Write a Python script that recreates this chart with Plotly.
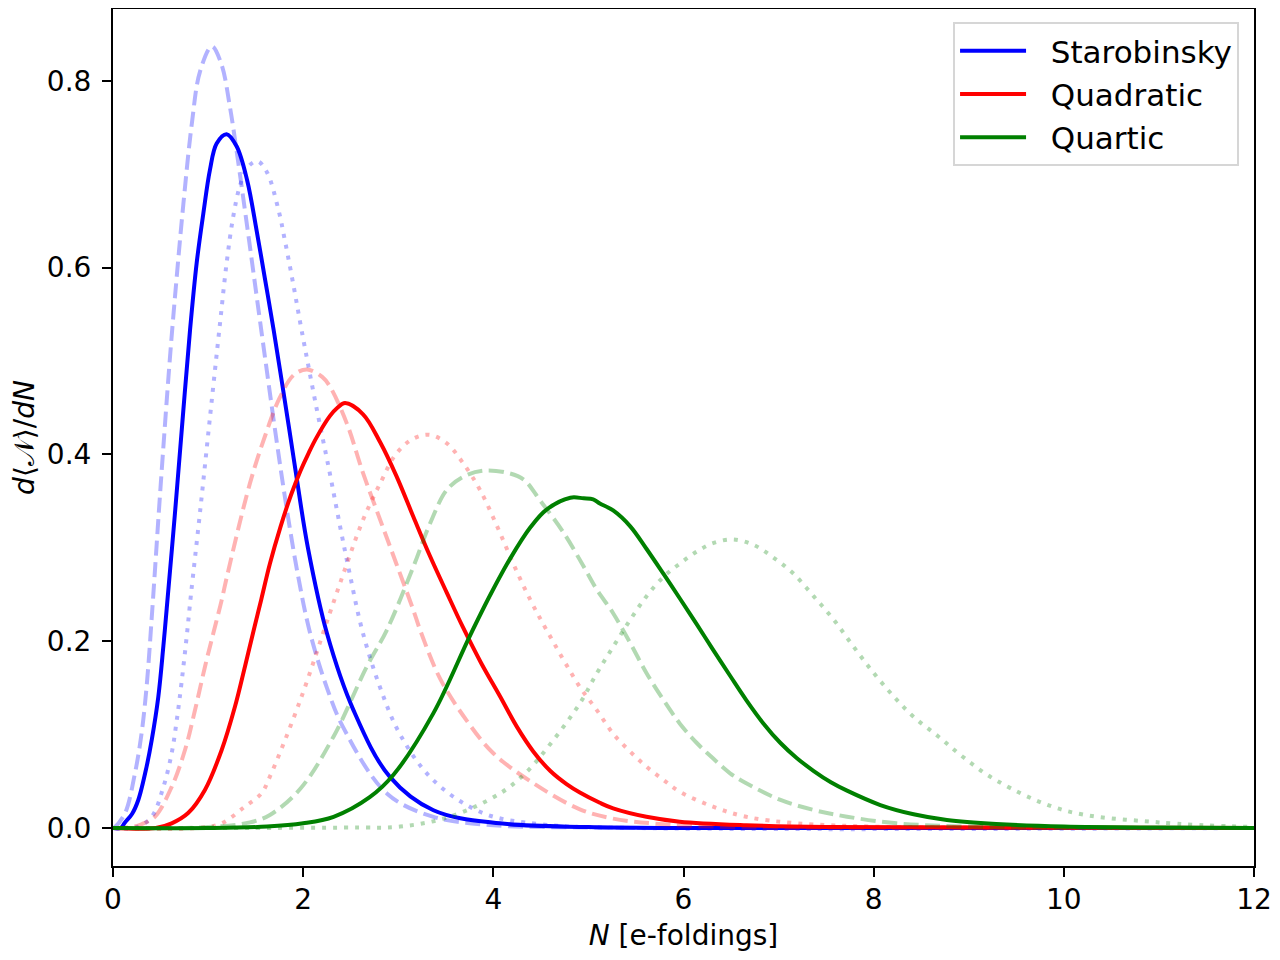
import plotly.graph_objects as go

# ---- data (N in e-foldings, value of d<N>/dN) ----
star_solid_N = [0, 0.08, 0.126, 0.2, 0.266, 0.354, 0.407, 0.476, 0.53, 0.565, 0.65, 0.73, 0.81, 0.88, 0.95, 1.02, 1.09, 1.195, 1.30, 1.41, 1.51, 1.60, 1.69, 1.855, 1.93, 2.05, 2.25, 2.53, 2.91, 3.37, 4.07, 5, 6, 12]
star_solid_V = [0, 0, 0.006, 0.015, 0.03, 0.066, 0.094, 0.14, 0.195, 0.235, 0.335, 0.435, 0.533, 0.605, 0.658, 0.705, 0.733, 0.743, 0.73, 0.694, 0.64, 0.587, 0.533, 0.426, 0.376, 0.30, 0.2085, 0.126, 0.055, 0.019, 0.005, 0.001, 0, 0]

star_dash_N = [0, 0.02, 0.126, 0.231, 0.30, 0.354, 0.414, 0.5, 0.60, 0.67, 0.74, 0.83, 0.915, 1.04, 1.14, 1.23, 1.30, 1.41, 1.51, 1.60, 1.72, 1.83, 1.95, 2.07, 2.25, 2.42, 2.88, 3.37, 4, 5, 6, 12]
star_dash_V = [0, 0.001, 0.0157, 0.0586, 0.101, 0.152, 0.235, 0.365, 0.505, 0.59, 0.668, 0.755, 0.81, 0.837, 0.818, 0.772, 0.725, 0.645, 0.57, 0.503, 0.415, 0.34, 0.268, 0.21, 0.15, 0.108, 0.037, 0.012, 0.003, 0.0005, 0, 0]

star_dot_N = [0, 0.25, 0.407, 0.53, 0.617, 0.67, 0.72, 0.775, 0.82, 0.915, 1.02, 1.125, 1.195, 1.265, 1.336, 1.42, 1.52, 1.62, 1.74, 1.81, 1.90, 1.98, 2.14, 2.28, 2.39, 2.49, 2.62, 2.8, 3.02, 3.37, 3.89, 4.5, 5.5, 12]
star_dot_V = [0, 0.001, 0.012, 0.044, 0.08, 0.115, 0.155, 0.205, 0.25, 0.338, 0.44, 0.54, 0.605, 0.655, 0.688, 0.708, 0.714, 0.702, 0.662, 0.628, 0.58, 0.535, 0.45, 0.38, 0.322, 0.272, 0.212, 0.153, 0.1, 0.051, 0.016, 0.004, 0, 0]

quad_solid_N = [0, 0.45, 0.617, 0.79, 0.968, 1.143, 1.283, 1.388, 1.49, 1.56, 1.65, 1.76, 1.87, 1.97, 2.06, 2.14, 2.28, 2.36, 2.44, 2.63, 2.81, 2.98, 3.16, 3.33, 3.51, 3.68, 3.87, 4.07, 4.25, 4.42, 4.6, 4.77, 4.91, 5.12, 5.26, 5.61, 5.96, 6.66, 7.5, 12]
quad_solid_V = [0, 0, 0.005, 0.016, 0.041, 0.0835, 0.13, 0.173, 0.216, 0.245, 0.283, 0.322, 0.356, 0.382, 0.402, 0.418, 0.441, 0.45, 0.455, 0.443, 0.413, 0.377, 0.333, 0.292, 0.252, 0.215, 0.177, 0.141, 0.108, 0.082, 0.061, 0.047, 0.038, 0.027, 0.021, 0.012, 0.0068, 0.003, 0.001, 0]

quad_dash_N = [0, 0.2, 0.3, 0.44, 0.617, 0.757, 0.862, 0.968, 1.055, 1.143, 1.2, 1.44, 1.6, 1.75, 1.9, 2.04, 2.2, 2.28, 2.46, 2.63, 2.81, 2.98, 3.16, 3.23, 3.44, 3.72, 4.0, 4.42, 4.91, 5.26, 5.79, 6.5, 7.5, 12]
quad_dash_V = [0, 0.001, 0.004, 0.012, 0.044, 0.0835, 0.126, 0.173, 0.2085, 0.244, 0.27, 0.369, 0.42, 0.46, 0.485, 0.491, 0.483, 0.473, 0.433, 0.38, 0.33, 0.283, 0.233, 0.212, 0.16, 0.115, 0.08, 0.048, 0.02, 0.01, 0.004, 0.001, 0.0002, 0]

quad_dot_N = [0, 0.9, 1.143, 1.388, 1.56, 1.65, 1.97, 2.28, 2.46, 2.63, 2.81, 2.98, 3.16, 3.33, 3.51, 3.68, 3.86, 4.04, 4.21, 4.39, 4.56, 4.91, 5.09, 5.26, 5.44, 5.61, 5.79, 5.96, 6.31, 6.66, 7.19, 8, 9, 12]
quad_dot_V = [0, 0, 0.005, 0.023, 0.037, 0.055, 0.137, 0.23, 0.283, 0.33, 0.369, 0.401, 0.417, 0.421, 0.412, 0.391, 0.362, 0.323, 0.283, 0.244, 0.212, 0.151, 0.126, 0.101, 0.0817, 0.0657, 0.0514, 0.0389, 0.0228, 0.012, 0.005, 0.0015, 0.0003, 0]

quart_solid_N = [0, 1.0, 1.62, 2.0, 2.32, 2.7, 2.95, 3.37, 3.75, 3.97, 4.18, 4.39, 4.56, 4.81, 4.95, 5.05, 5.12, 5.26, 5.44, 5.61, 5.79, 5.96, 6.14, 6.31, 6.49, 6.66, 6.84, 7.02, 7.19, 7.37, 7.55, 7.72, 8.07, 8.42, 8.77, 9.29, 10, 11, 12]
quart_solid_V = [0, 0, 0.0015, 0.005, 0.012, 0.033, 0.057, 0.123, 0.205, 0.25, 0.289, 0.322, 0.341, 0.3537, 0.353, 0.352, 0.3475, 0.34, 0.323, 0.299, 0.272, 0.246, 0.218, 0.191, 0.163, 0.137, 0.112, 0.091, 0.075, 0.061, 0.049, 0.04, 0.0246, 0.0147, 0.0086, 0.0043, 0.0015, 0.0004, 0]

quart_dash_N = [0, 1.0, 1.44, 1.65, 1.97, 2.32, 2.67, 2.88, 3.16, 3.33, 3.51, 3.68, 3.89, 4.14, 4.32, 4.49, 4.74, 4.95, 5.09, 5.26, 5.44, 5.61, 5.79, 5.96, 6.14, 6.31, 6.49, 6.66, 7.02, 7.37, 7.72, 8.24, 9, 10, 12]
quart_dash_V = [0, 0.001, 0.006, 0.014, 0.042, 0.098, 0.173, 0.212, 0.28, 0.325, 0.362, 0.376, 0.3826, 0.3805, 0.373, 0.351, 0.316, 0.28, 0.255, 0.23, 0.198, 0.166, 0.137, 0.112, 0.091, 0.0746, 0.0586, 0.0479, 0.030, 0.0193, 0.0121, 0.005, 0.0015, 0.0003, 0]

quart_dot_N = [0, 2.5, 3.02, 3.54, 4.07, 4.35, 4.6, 4.91, 5.09, 5.26, 5.44, 5.61, 5.79, 5.96, 6.14, 6.31, 6.52, 6.74, 6.94, 7.15, 7.37, 7.58, 7.79, 8.0, 8.21, 8.42, 8.68, 8.94, 9.29, 10, 11, 12]
quart_dot_V = [0, 0.0005, 0.0015, 0.012, 0.037, 0.06, 0.09, 0.1335, 0.166, 0.194, 0.223, 0.248, 0.269, 0.283, 0.296, 0.305, 0.309, 0.303, 0.29, 0.273, 0.248, 0.223, 0.194, 0.166, 0.141, 0.119, 0.098, 0.076, 0.051, 0.019, 0.006, 0.001]

model_names = ["Starobinsky", "Quadratic", "Quartic"]
x_ticks = [0, 2, 4, 6, 8, 10, 12]
y_ticks = [0.0, 0.2, 0.4, 0.6, 0.8]

# ---- styling ----
COLORS = ["#0000ff", "#ff0000", "#008000"]
LIGHT = ["rgba(0,0,255,0.3)", "rgba(255,0,0,0.3)", "rgba(0,128,0,0.3)"]
DASH = "15px,6.5px"
DOT = "4px,7px"
LW = 4
SMOOTH = 1.0

series = [
    (star_solid_N, star_solid_V, star_dash_N, star_dash_V, star_dot_N, star_dot_V),
    (quad_solid_N, quad_solid_V, quad_dash_N, quad_dash_V, quad_dot_N, quad_dot_V),
    (quart_solid_N, quart_solid_V, quart_dash_N, quart_dash_V, quart_dot_N, quart_dot_V),
]

fig = go.Figure()
for i, (sN, sV, dN, dV, oN, oV) in enumerate(series):
    fig.add_trace(go.Scatter(x=sN, y=sV, mode="lines", name="\u00a0\u00a0" + model_names[i],
                             line=dict(color=COLORS[i], width=LW, shape="spline", smoothing=SMOOTH)))
    fig.add_trace(go.Scatter(x=dN, y=dV, mode="lines", showlegend=False, hoverinfo="skip",
                             line=dict(color=LIGHT[i], width=LW, dash=DASH, shape="spline", smoothing=SMOOTH)))
    fig.add_trace(go.Scatter(x=oN, y=oV, mode="lines", showlegend=False, hoverinfo="skip",
                             line=dict(color=LIGHT[i], width=LW, dash=DOT, shape="spline", smoothing=SMOOTH)))

fig.update_layout(
    width=1264, height=944,
    margin=dict(l=105, r=18, t=1, b=86, autoexpand=False),
    paper_bgcolor="white", plot_bgcolor="white",
    font=dict(family="DejaVu Sans", size=28, color="black"),
    legend=dict(x=0.9869, y=0.9848, xanchor="right", yanchor="top",
                bgcolor="rgba(255,255,255,0.8)", bordercolor="#d6d6d6", borderwidth=2,
                font=dict(family="DejaVu Sans", size=31), itemwidth=66, tracegroupgap=0),
    showlegend=True,
)
axis_common = dict(showgrid=False, zeroline=False, showline=True, linecolor="black", linewidth=2,
                   mirror=True, ticks="outside", ticklen=9, tickwidth=2, tickcolor="black",
                   automargin=False)
fig.update_xaxes(range=[0, 12], tickvals=x_ticks, ticktext=[str(t) for t in x_ticks],
                 ticklabelstandoff=-2,
                 title=dict(text="<i>N</i> [e-foldings]", font=dict(size=28), standoff=31), **axis_common)
fig.update_yaxes(range=[-0.0407, 0.877], tickvals=y_ticks, ticktext=[f"{t:.1f}" for t in y_ticks],
                 ticklabelstandoff=5,
                 title=dict(text="<i>d</i>⟨𝒩⟩/<i>dN</i>", font=dict(size=28), standoff=22), **axis_common)

fig.write_html("out.html")
